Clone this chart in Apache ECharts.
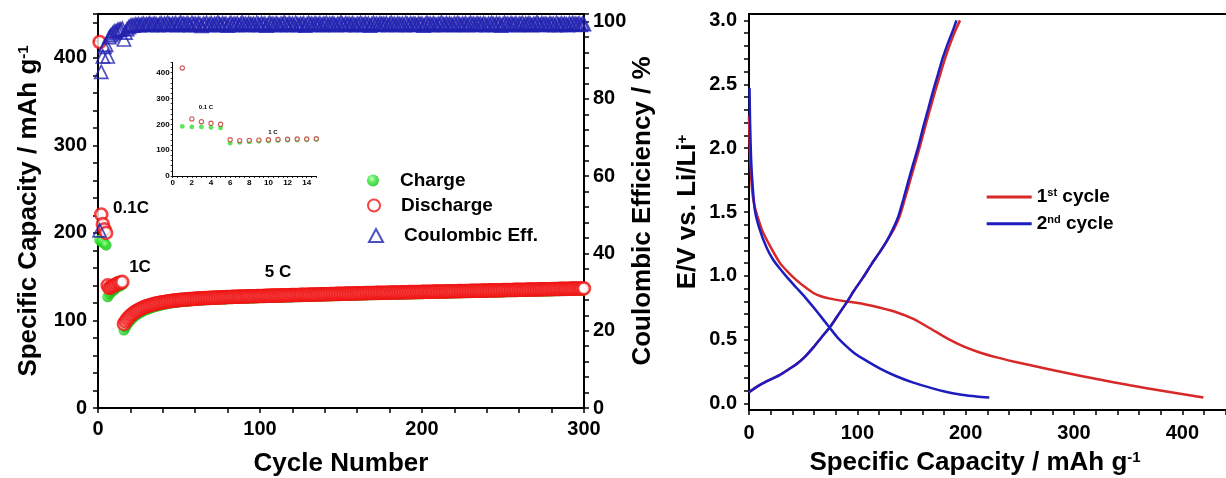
<!DOCTYPE html>
<html><head><meta charset="utf-8">
<script src="https://cdn.jsdelivr.net/npm/echarts@6/dist/echarts.min.js"></script>
<style>html,body{margin:0;padding:0;background:#fff}#c{width:1226px;height:478px}</style>
</head><body><div id="c"></div><script>
// ---------- Left chart: rate / cycling data ----------
// 0.1C cycles 1-5
const charge01 = [192, 190, 190, 188, 186];
const discharge01 = [418, 221, 210, 204, 200];
const ce01 = [46, 87, 91, 93.5, 94];
// 1C cycles 6-15
const charge1C = [127, 130, 132, 134, 135, 137, 138, 139, 140, 141];
const discharge1C = [140, 137, 138, 139, 140, 141, 142, 143, 143, 144];
const ce1C = [91, 96, 96.5, 97, 97.5, 97.5, 97.8, 98, 98, 98.2];
// 5C cycles 16-300
const discharge5C = [
96,99,101.5,103.5,105.5,107,108.5,110,111,112,113,114,114.8,115.5,116.2,116.8,117.4,117.9,118.4,118.9,
119.3,119.7,120.1,120.4,120.8,121.1,121.4,121.7,122,122.2,122.5,122.7,122.9,123.1,123.3,123.5,123.6,123.8,124,124.1,
124.3,124.4,124.5,124.7,124.8,124.9,125.1,125.2,125.3,125.4,125.5,125.6,125.7,125.8,125.9,126,126.1,126.1,126.2,126.3,
126.4,126.5,126.5,126.6,126.7,126.8,126.8,126.9,127,127,127.1,127.2,127.2,127.3,127.3,127.4,127.5,127.5,127.6,127.6,
127.7,127.7,127.8,127.9,127.9,128,128,128.1,128.1,128.2,128.2,128.3,128.3,128.4,128.4,128.5,128.5,128.6,128.6,128.7,
128.7,128.8,128.8,128.9,128.9,129,129,129.1,129.1,129.2,129.2,129.3,129.3,129.4,129.4,129.5,129.5,129.6,129.6,129.7,
129.7,129.8,129.8,129.9,129.9,130,130,130.1,130.1,130.2,130.2,130.3,130.3,130.4,130.4,130.5,130.5,130.6,130.6,130.7,
130.7,130.8,130.8,130.9,130.9,131,131,131.1,131.1,131.2,131.2,131.3,131.3,131.3,131.4,131.4,131.5,131.5,131.5,131.6,
131.6,131.7,131.7,131.7,131.8,131.8,131.9,131.9,131.9,132,132,132.1,132.1,132.1,132.2,132.2,132.3,132.3,132.3,132.4,
132.4,132.5,132.5,132.5,132.6,132.6,132.7,132.7,132.7,132.8,132.8,132.9,132.9,132.9,133,133,133.1,133.1,133.1,133.2,
133.2,133.3,133.3,133.3,133.4,133.4,133.5,133.5,133.5,133.6,133.6,133.7,133.7,133.7,133.8,133.8,133.9,133.9,133.9,134,
134,134.1,134.1,134.1,134.2,134.2,134.3,134.3,134.3,134.4,134.4,134.5,134.5,134.5,134.6,134.6,134.7,134.7,134.7,134.8,
134.8,134.9,134.9,134.9,135,135,135.1,135.1,135.1,135.2,135.2,135.3,135.3,135.3,135.4,135.4,135.5,135.5,135.5,135.6,
135.6,135.7,135.7,135.7,135.8,135.8,135.9,135.9,135.9,136,136,136.1,136.1,136.1,136.2,136.2,136.3,136.3,136.3,136.4,
136.4,136.5,136.5,136.5,136.6];
const charge5C = [
89,92.5,95.5,98,100.2,102,103.8,105.3,106.6,107.8,108.9,110,110.9,111.7,112.5,113.2,113.9,114.5,115.1,115.7,
116.2,116.7,117.2,117.6,118,118.4,118.8,119.2,119.5,119.8,120.1,120.4,120.6,120.9,121.1,121.3,121.5,121.7,121.9,122,
122.2,122.3,122.5,122.6,122.8,122.9,123,123.1,123.3,123.4,123.5,123.6,123.7,123.8,123.9,124,124.1,124.1,124.2,124.3,
124.4,124.5,124.5,124.6,124.7,124.8,124.8,124.9,125,125,125.1,125.2,125.2,125.3,125.3,125.4,125.5,125.5,125.6,125.6,
125.7,125.7,125.8,125.9,125.9,126,126,126.1,126.1,126.2,126.2,126.3,126.3,126.4,126.4,126.5,126.5,126.6,126.6,126.7,
126.7,126.8,126.8,126.9,126.9,127,127,127.1,127.1,127.2,127.2,127.3,127.3,127.4,127.4,127.5,127.5,127.6,127.6,127.7,
127.7,127.8,127.8,127.9,127.9,128,128,128.1,128.1,128.2,128.2,128.3,128.3,128.4,128.4,128.5,128.5,128.6,128.6,128.7,
128.7,128.8,128.8,128.9,128.9,129,129,129.1,129.1,129.2,129.2,129.3,129.3,129.3,129.4,129.4,129.5,129.5,129.5,129.6,
129.6,129.7,129.7,129.7,129.8,129.8,129.9,129.9,129.9,130,130,130.1,130.1,130.1,130.2,130.2,130.3,130.3,130.3,130.4,
130.4,130.5,130.5,130.5,130.6,130.6,130.7,130.7,130.7,130.8,130.8,130.9,130.9,130.9,131,131,131.1,131.1,131.1,131.2,
131.2,131.3,131.3,131.3,131.4,131.4,131.5,131.5,131.5,131.6,131.6,131.7,131.7,131.7,131.8,131.8,131.9,131.9,131.9,132,
132,132.1,132.1,132.1,132.2,132.2,132.3,132.3,132.3,132.4,132.4,132.5,132.5,132.5,132.6,132.6,132.7,132.7,132.7,132.8,
132.8,132.9,132.9,132.9,133,133,133.1,133.1,133.1,133.2,133.2,133.3,133.3,133.3,133.4,133.4,133.5,133.5,133.5,133.6,
133.6,133.7,133.7,133.7,133.8,133.8,133.9,133.9,133.9,134,134,134.1,134.1,134.1,134.2,134.2,134.3,134.3,134.3,134.4,
134.4,134.5,134.5,134.5,134.6];
const ce5C = [
95.4,97.2,98.1,98.6,98.9,99.1,99.0,99.3,99.2,99.4,99.1,99.3,99.5,99.2,99.4,99.3,99.6,99.2,99.4,99.5,
99.3,99.1,99.4,99.6,99.2,99.5,99.3,99.7,99.4,99.2,99.5,99.3,99.6,99.1,99.4,99.8,99.3,99.5,99.2,99.6,
99.4,99.1,99.7,99.3,99.5,99.2,99.6,99.4,98.9,99.5,99.3,99.7,99.2,99.4,99.6,99.1,99.5,99.3,99.8,99.4,
99.2,99.6,99.3,99.5,99.0,99.4,99.7,99.2,99.5,99.3,99.6,99.1,99.4,99.8,99.3,99.5,99.2,99.6,99.4,99.3,
99.5,99.1,99.7,99.4,99.2,99.6,99.3,99.5,99.0,99.4,99.7,99.3,99.5,99.2,99.6,99.4,99.1,99.5,99.3,99.8,
99.4,99.2,99.6,99.3,99.5,99.1,99.7,99.4,99.2,99.5,99.3,99.6,99.0,99.4,99.7,99.3,99.5,99.2,99.6,99.4,
99.3,99.6,99.1,99.5,99.4,99.7,99.2,99.5,99.3,99.6,99.4,99.1,99.5,99.3,99.8,99.4,99.2,99.6,99.3,99.5,
99.2,99.6,99.4,99.1,99.5,99.3,99.7,99.4,99.2,99.6,99.3,99.5,99.0,99.4,99.7,99.3,99.5,99.2,99.6,99.4,
99.5,99.3,99.6,99.1,99.4,99.7,99.3,99.5,99.2,99.6,99.4,99.3,99.5,99.1,99.7,99.4,99.2,99.6,99.3,99.5,
99.4,99.2,99.6,99.3,99.5,99.0,99.4,99.7,99.3,99.5,99.2,99.6,99.4,99.1,99.5,99.3,99.8,99.4,99.2,99.6,
99.3,99.5,99.4,99.1,99.6,99.3,99.7,99.4,99.2,99.5,99.3,99.6,99.1,99.4,99.7,99.3,99.5,99.2,99.6,99.4,
99.5,99.2,99.6,99.4,99.1,99.5,99.3,99.7,99.4,99.2,99.6,99.3,99.5,99.0,99.4,99.7,99.3,99.5,99.2,99.6,
99.4,99.3,99.6,99.1,99.5,99.4,99.7,99.2,99.5,99.3,99.6,99.4,99.1,99.5,99.3,99.8,99.4,99.2,99.6,99.3,
99.5,99.4,99.2,99.6,99.3,99.5,99.1,99.7,99.4,99.2,99.6,99.3,99.5,99.4,99.1,99.6,99.3,99.7,99.4,99.5,
99.3,99.6,99.2,99.5,99.4];
const insetCycles = 15;

// ---------- Right chart: voltage profiles [capacity, voltage] ----------
const discharge1st = [[0,2.25],[0.6,2.05],[1.5,1.85],[3,1.66],[5,1.55],[8,1.46],[12,1.36],[19,1.24],[28.6,1.1],[36,1.03],[44,0.965],[52,0.91],[59.4,0.866],[67,0.838],[74.8,0.822],[90,0.8],[105.5,0.78],[121,0.75],[136,0.715],[151.7,0.663],[167,0.59],[182.5,0.513],[198,0.448],[213,0.4],[228.6,0.362],[244,0.33],[259,0.302],[290,0.245],[321,0.192],[351.7,0.143],[382.5,0.099],[419.4,0.047]];
const charge1st = [[0,0.09],[6,0.125],[13,0.16],[20,0.19],[28.6,0.225],[36,0.265],[44,0.31],[52,0.37],[59.4,0.44],[67,0.52],[74.8,0.6],[82,0.69],[90,0.79],[97,0.885],[105.5,0.99],[113,1.09],[121,1.19],[127,1.27],[134,1.37],[139.2,1.47],[143.8,1.6],[148.5,1.74],[153.3,1.88],[158,2.02],[162.7,2.17],[167.3,2.31],[172,2.45],[176.6,2.58],[181.3,2.71],[186.3,2.83],[191,2.93],[194.8,3.0]];
const discharge2nd = [[0.5,2.47],[1,2.2],[2,1.9],[3.4,1.7],[5.5,1.51],[10,1.36],[16.3,1.22],[22,1.13],[28.6,1.055],[36,0.98],[44,0.905],[52,0.83],[59.4,0.755],[67,0.675],[74.8,0.59],[82,0.515],[90,0.448],[97,0.397],[105.5,0.35],[121,0.274],[136,0.214],[151.7,0.164],[167,0.125],[182.5,0.091],[198,0.068],[210,0.056],[221.8,0.047]];
const charge2nd = [[0,0.09],[6,0.125],[13,0.16],[20,0.19],[28.6,0.225],[36,0.265],[44,0.31],[52,0.37],[59.4,0.44],[67,0.52],[74.8,0.6],[82,0.69],[90,0.79],[97,0.885],[105.5,0.99],[113,1.09],[121,1.19],[127,1.27],[133,1.37],[138,1.47],[142.5,1.6],[147,1.74],[151.7,1.88],[156.5,2.02],[161,2.17],[165.5,2.31],[170,2.45],[174.5,2.58],[179,2.71],[184,2.83],[188.6,2.93],[191.5,3.0]];

// ---------- build ----------
const FF = "'Liberation Sans', Arial, sans-serif";
const chargeAll = charge01.concat(charge1C, charge5C);
const dischargeAll = discharge01.concat(discharge1C, discharge5C);
const ceAll = ce01.concat(ce1C, ce5C);
const toPts = arr => arr.map((v, i) => [i + 1, v]);

const chart = echarts.init(document.getElementById('c'), null, {renderer: 'canvas'});
const axLine = {show: true, lineStyle: {color: '#000', width: 2}};
const axTick = {show: true, length: 5, lineStyle: {color: '#000', width: 1.5}};
const lbl = (fmt, margin) => ({formatter: fmt, fontSize: 20, fontWeight: 'bold', fontFamily: FF, color: '#000', margin: margin});
const nameStyle = {fontSize: 26, fontWeight: 'bold', fontFamily: FF, color: '#000',
  rich: {sup: {fontSize: 15, fontWeight: 'bold', fontFamily: FF, color: '#000', verticalAlign: 'top'}}};
const every = (step) => (v) => (Math.abs(v / step - Math.round(v / step)) < 1e-6 ? String(v) : '');
const legText = (pad) => ({fontSize: 19, fontWeight: 'bold', fontFamily: FF, color: '#000', padding: [0, 0, 0, pad]});
const supText = {fontSize: 19, fontWeight: 'bold', fontFamily: FF, color: '#000',
  rich: {s: {fontSize: 11, fontWeight: 'bold', fontFamily: FF, color: '#000', verticalAlign: 'top'}}};

const greenBall = new echarts.graphic.RadialGradient(0.4, 0.35, 0.7, [
  {offset: 0, color: '#b8ffb0'}, {offset: 0.45, color: '#35e535'}, {offset: 1, color: '#14b814'}]);

const RW = 487.5; // right plot width (extends past the picture edge)

const option = {
  animation: false,
  backgroundColor: '#fff',
  grid: [
    {left: 98, right: 642, top: 14, bottom: 70, show: true, borderColor: '#000', borderWidth: 2, outerBoundsMode: 'none', containLabel: false},
    {left: 172.7, top: 62.3, width: 143.6, height: 113.7, outerBoundsMode: 'none', containLabel: false},
    {left: 749, width: RW, top: 20.4, bottom: 74.4, outerBoundsMode: 'none', containLabel: false},
    {left: 749, width: RW, top: 14, bottom: 68, show: true, borderColor: '#000', borderWidth: 2, outerBoundsMode: 'none', containLabel: false}
  ],
  xAxis: [
    {gridIndex: 0, type: 'value', min: 0, max: 300, interval: 20, splitLine: {show: false},
     axisLine: axLine, axisTick: axTick, axisLabel: lbl(every(100), 11),
     name: 'Cycle Number', nameLocation: 'middle', nameGap: 43, nameTextStyle: nameStyle},
    {gridIndex: 1, type: 'value', min: 0, max: 15, interval: 0.5, splitLine: {show: false},
     axisLine: {show: true, lineStyle: {color: '#000', width: 1}}, axisTick: {length: 2, lineStyle: {color: '#000', width: 0.8}},
     axisLabel: {formatter: every(2), fontSize: 8, fontWeight: 'bold', fontFamily: FF, color: '#000', margin: 3}},
    {gridIndex: 2, type: 'value', min: 0, max: 450, interval: 20, offset: 6.4, splitLine: {show: false},
     axisLine: {show: false, onZero: false}, axisTick: axTick, axisLabel: lbl(every(100), 13),
     name: 'Specific Capacity / mAh g{sup|-1}', nameLocation: 'middle', nameGap: 40,
     nameTextStyle: Object.assign({}, nameStyle, {padding: [0, 35.5, 0, 0]})},
    {gridIndex: 3, type: 'value', min: 0, max: 1, show: false}
  ],
  yAxis: [
    {gridIndex: 0, type: 'value', position: 'left', min: 0, max: 450, interval: 20, splitLine: {show: false},
     axisLine: axLine, axisTick: axTick, axisLabel: lbl(every(100), 11),
     name: 'Specific Capacity / mAh g{sup|-1}', nameLocation: 'middle', nameRotate: 90, nameGap: 56, nameTextStyle: nameStyle},
    {gridIndex: 0, type: 'value', position: 'right', min: 0, max: 102, interval: 4, splitLine: {show: false},
     axisLine: axLine, axisTick: axTick, axisLabel: lbl(every(20), 9),
     name: 'Coulombic Efficiency / %', nameLocation: 'middle', nameRotate: 90, nameGap: 43, nameTextStyle: nameStyle},
    {gridIndex: 1, type: 'value', min: 0, max: 440, interval: 20, splitLine: {show: false},
     axisLine: {show: true, lineStyle: {color: '#000', width: 1}}, axisTick: {length: 2, lineStyle: {color: '#000', width: 0.8}},
     axisLabel: {formatter: every(100), fontSize: 8, fontWeight: 'bold', fontFamily: FF, color: '#000', margin: 3}},
    {gridIndex: 2, type: 'value', min: 0, max: 3, interval: 0.1, splitLine: {show: false},
     axisLine: {show: false}, axisTick: axTick,
     axisLabel: lbl(v => (Math.abs(v * 2 - Math.round(v * 2)) < 1e-6 ? v.toFixed(1) : ''), 12),
     name: 'E/V vs. Li/Li{sup|+}', nameLocation: 'middle', nameRotate: 90, nameGap: 48, nameTextStyle: nameStyle},
    {gridIndex: 3, type: 'value', min: 0, max: 1, show: false}
  ],
  legend: [
    {data: ['Charge'], left: 367, top: 171, padding: 0, itemWidth: 12, itemHeight: 12, selectedMode: false, textStyle: legText(16)},
    {data: ['Discharge'], left: 367, top: 196, padding: 0, itemWidth: 12, itemHeight: 12, selectedMode: false, textStyle: legText(16)},
    {data: ['Coulombic Eff.'], left: 368, top: 226, padding: 0, itemWidth: 14, itemHeight: 13, selectedMode: false, textStyle: legText(16)},
    {data: ['1st cycle'], left: 986.7, top: 187.5, padding: 0, icon: 'rect', itemWidth: 45, itemHeight: 3, selectedMode: false,
     formatter: () => '1{s|st} cycle', textStyle: supText},
    {data: ['2nd cycle'], left: 986.7, top: 214.2, padding: 0, icon: 'rect', itemWidth: 45, itemHeight: 3, selectedMode: false,
     formatter: () => '2{s|nd} cycle', textStyle: supText}
  ],
  series: [
    {name: 'Charge', type: 'scatter', xAxisIndex: 0, yAxisIndex: 0, data: toPts(chargeAll), symbol: 'circle', symbolSize: 11,
     itemStyle: {color: greenBall}, silent: true, z: 2},
    {name: 'Discharge', type: 'scatter', xAxisIndex: 0, yAxisIndex: 0, data: toPts(dischargeAll), symbol: 'circle', symbolSize: 12,
     itemStyle: {color: '#fff', borderColor: '#f01414', borderWidth: 2.6}, silent: true, z: 3},
    {name: 'Coulombic Eff.', type: 'scatter', xAxisIndex: 0, yAxisIndex: 1, data: toPts(ceAll), symbol: 'triangle', symbolSize: 13,
     itemStyle: {color: 'rgba(255,255,255,0)', borderColor: '#2222b0', borderWidth: 1.7}, silent: true, z: 4},
    {name: 'insetCharge', type: 'scatter', xAxisIndex: 1, yAxisIndex: 2, data: toPts(chargeAll.slice(0, insetCycles)),
     symbol: 'circle', symbolSize: 4.8, itemStyle: {color: '#2fe02f'}, silent: true, z: 5},
    {name: 'insetDischarge', type: 'scatter', xAxisIndex: 1, yAxisIndex: 2, data: toPts(dischargeAll.slice(0, insetCycles)),
     symbol: 'circle', symbolSize: 4.3, itemStyle: {color: '#fff', borderColor: '#c03030', borderWidth: 1.1}, silent: true, z: 6},
    {name: '1st cycle', type: 'line', xAxisIndex: 2, yAxisIndex: 3, data: discharge1st, symbol: 'none', smooth: 0.25,
     lineStyle: {color: '#d82828', width: 2.5}, itemStyle: {color: '#d82828'}, silent: true, z: 3},
    {name: '1st cycle', type: 'line', xAxisIndex: 2, yAxisIndex: 3, data: charge1st, symbol: 'none', smooth: 0.25,
     lineStyle: {color: '#d82828', width: 2.5}, itemStyle: {color: '#d82828'}, silent: true, z: 3},
    {name: '2nd cycle', type: 'line', xAxisIndex: 2, yAxisIndex: 3, data: discharge2nd, symbol: 'none', smooth: 0.25,
     lineStyle: {color: '#1c1cc0', width: 2.5}, itemStyle: {color: '#1c1cc0'}, silent: true, z: 4},
    {name: '2nd cycle', type: 'line', xAxisIndex: 2, yAxisIndex: 3, data: charge2nd, symbol: 'none', smooth: 0.25,
     lineStyle: {color: '#1c1cc0', width: 2.5}, itemStyle: {color: '#1c1cc0'}, silent: true, z: 4}
  ],
  graphic: [
    {type: 'text', x: 131, y: 208, silent: true, style: {text: '0.1C', font: 'bold 17px ' + FF, fill: '#000', align: 'center', verticalAlign: 'middle'}},
    {type: 'text', x: 140, y: 267, silent: true, style: {text: '1C', font: 'bold 17px ' + FF, fill: '#000', align: 'center', verticalAlign: 'middle'}},
    {type: 'text', x: 278, y: 272, silent: true, style: {text: '5 C', font: 'bold 17px ' + FF, fill: '#000', align: 'center', verticalAlign: 'middle'}},
    {type: 'text', x: 206, y: 107, silent: true, style: {text: '0.1 C', font: 'bold 6px ' + FF, fill: '#000', align: 'center', verticalAlign: 'middle'}},
    {type: 'text', x: 273, y: 132, silent: true, style: {text: '1 C', font: 'bold 6px ' + FF, fill: '#000', align: 'center', verticalAlign: 'middle'}}
  ]
};
chart.setOption(option);
</script></body></html>
